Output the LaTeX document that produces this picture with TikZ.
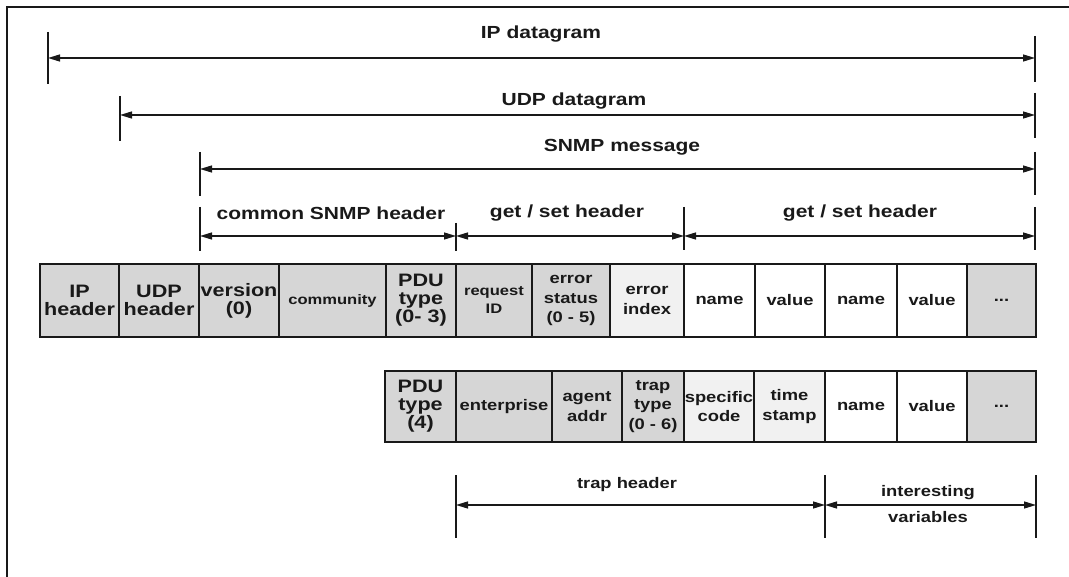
\documentclass[tikz,border=0pt]{standalone}
\usepackage{fontspec}
\setmainfont{Liberation Sans}[FakeStretch=1.2]
\usetikzlibrary{arrows.meta}

\definecolor{ink}{gray}{0.1}
\definecolor{celldark}{gray}{0.84}
\definecolor{celllight}{gray}{0.945}

\newcommand\hdfont{\fontsize{17.5}{18}\selectfont\bfseries}
\newcommand\bigcellfont{\fontsize{18}{18}\selectfont\bfseries}
\newcommand\smallcellfont{\fontsize{15.3}{19.5}\selectfont\bfseries}
\newcommand\tinycellfont{\fontsize{13.8}{18}\selectfont\bfseries}

\tikzset{
  frameline/.style={draw=ink, line width=1.8pt},
  tickline/.style={draw=ink, line width=1.5pt},
  span/.style={draw=ink, line width=1.3pt, {Triangle[length=12pt,width=7pt]}-{Triangle[length=12pt,width=7pt]}},
  spanlabel/.style={inner sep=0pt, text=ink, font=\hdfont},
  traplabel/.style={inner sep=0pt, text=ink, font=\smallcellfont},
  cell/.style={draw=ink, line width=1.6pt, inner sep=0pt, align=center, text=ink, font=\smallcellfont},
  row1/.style={cell, minimum height=73pt},
  row2/.style={cell, minimum height=71pt},
  dark/.style={fill=celldark},
  light/.style={fill=celllight},
  plain/.style={fill=white},
  big/.style={font=\bigcellfont},
  tiny/.style={font=\tinycellfont},
}

\begin{document}
\begin{tikzpicture}[x=1pt, y=-1pt]
\useasboundingbox (0,0) rectangle (1069,577);

% page frame (top and left edges)
\draw[frameline] (1069,7) -- (7,7) -- (7,577);

% ---------- span markers above the message ----------
\coordinate (ipL) at (48,58);   \coordinate (ipR) at (1035,58);
\coordinate (udpL) at (120,115); \coordinate (udpR) at (1035,115);
\coordinate (snL) at (200,169);  \coordinate (snR) at (1035,169);
\coordinate (hA) at (200,236);   \coordinate (hB) at (456,236);
\coordinate (hC) at (684,236);   \coordinate (hD) at (1035,236);

\draw[tickline] (ipL) +(0,-26) -- +(0,26);
\draw[tickline] (ipR) +(0,-22) -- +(0,24);
\draw[tickline] (udpL) +(0,-19) -- +(0,26);
\draw[tickline] (udpR) +(0,-22) -- +(0,23);
\draw[tickline] (snL) +(0,-17) -- +(0,27);
\draw[tickline] (snR) +(0,-17) -- +(0,26);
\draw[tickline] (hA) +(0,-29) -- +(0,15);
\draw[tickline] (hB) +(0,-13) -- +(0,15);
\draw[tickline] (hC) +(0,-29) -- +(0,14);
\draw[tickline] (hD) +(0,-29) -- +(0,14);

\draw[span] (ipL) -- (ipR);
\draw[span] (udpL) -- (udpR);
\draw[span] (snL) -- (snR);
\draw[span] (hA) -- (hB);
\draw[span] (hB) -- (hC);
\draw[span] (hC) -- (hD);

\node[spanlabel] (lip) at (541,34.5) {IP datagram};
\node[spanlabel] (ludp) at (574,101.5) {UDP datagram};
\node[spanlabel] (lsn) at (622,147) {SNMP message};
\node[spanlabel] (lcom) at (331,213.5) {common SNMP header};
\node[spanlabel] (lgs1) at (567,213) {get / set header};
\node[spanlabel] (lgs2) at (860,213) {get / set header};

% ---------- get / set message fields ----------
\node[row1, dark, big, minimum width=79pt] (iph) at (79.5,300.5) {IP\\header};
\node[row1, dark, big, minimum width=80pt] (udph) at (159,300.5) {UDP\\header};
\node[row1, dark, big, minimum width=80pt] (ver) at (239,300.5) {version\\(0)};
\node[row1, dark, tiny, minimum width=107pt] (comm) at (332.5,300.5) {community};
\node[row1, dark, big, minimum width=70pt] (pdu) at (421,300.5) {PDU\\type\\(0- 3)};
\node[row1, dark, tiny, minimum width=76pt] (reqid) at (494,300.5) {request\\ID};
\node[row1, dark, minimum width=78pt] (errst) at (571,300.5) {error\\status\\(0 - 5)};
\node[row1, light, minimum width=74pt] (errix) at (647,300.5) {error\\index};
\node[row1, plain, minimum width=71pt] (nm1) at (719.5,300.5) {name};
\node[row1, plain, minimum width=70pt] (vl1) at (790,300.5) {value};
\node[row1, plain, minimum width=72pt] (nm2) at (861,300.5) {name};
\node[row1, plain, minimum width=70pt] (vl2) at (932,300.5) {value};
\node[row1, dark, minimum width=69pt] (more1) at (1001.5,300.5) {...};

% ---------- trap message fields ----------
\node[row2, dark, big, minimum width=71pt] (pdu4) at (420.5,406.5) {PDU\\type\\(4)};
\node[row2, dark, minimum width=96pt] (ent) at (504,406.5) {enterprise};
\node[row2, dark, minimum width=70pt] (agt) at (587,406.5) {agent\\addr};
\node[row2, dark, minimum width=62pt] (trt) at (653,406.5) {trap\\type\\(0 - 6)};
\node[row2, light, minimum width=70pt] (spc) at (719,406.5) {specific\\code};
\node[row2, light, minimum width=71pt] (tst) at (789.5,406.5) {time\\stamp};
\node[row2, plain, minimum width=72pt] (nm3) at (861,406.5) {name};
\node[row2, plain, minimum width=70pt] (vl3) at (932,406.5) {value};
\node[row2, dark, minimum width=69pt] (more2) at (1001.5,406.5) {...};

% ---------- span markers below the trap ----------
\coordinate (tA) at (456,505); \coordinate (tB) at (825,505); \coordinate (tC) at (1036,505);
\draw[tickline] (tA) +(0,-30) -- +(0,33);
\draw[tickline] (tB) +(0,-30) -- +(0,33);
\draw[tickline] (tC) +(0,-30) -- +(0,33);
\draw[span] (tA) -- (tB);
\draw[span] (tB) -- (tC);

\node[traplabel] (ltrap) at (627,484.5) {trap header};
\node[traplabel] (lint) at (928,492.5) {interesting};
\node[traplabel] (lvar) at (928,517.5) {variables};
\end{tikzpicture}
\end{document}
